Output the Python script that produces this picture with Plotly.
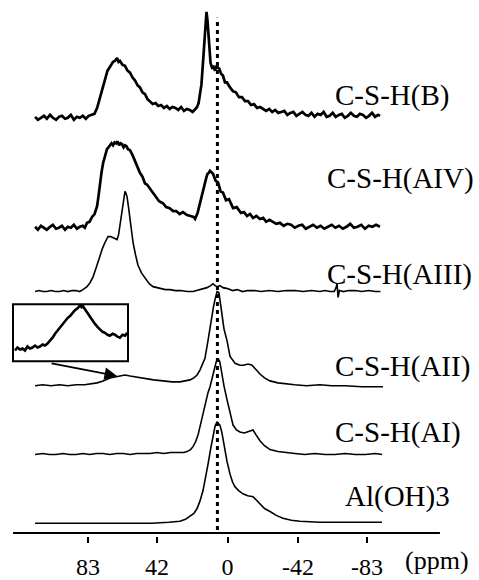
import plotly.graph_objects as go

# ---------------- data (ppm, intensity in arbitrary units) ----------------
SPEC_B = [(114.5, 1), (112.8, -2), (111.0, 0), (109.2, 2), (107.5, -1), (105.6, 3), (103.9, 0), (102.0, -2),
          (100.3, 1), (98.5, 2), (96.7, -1), (95.0, 0), (93.2, 3), (91.4, -2), (89.6, 1), (87.9, 0), (86.1, 2),
          (84.3, -1), (82.6, 2), (80.8, 3), (79.2, 4), (77.6, 10), (75.9, 21), (74.4, 30), (72.9, 41),
          (71.4, 48), (69.9, 52), (68.1, 57), (66.9, 58), (65.7, 61), (64.8, 57), (64.0, 58), (62.5, 54),
          (61.0, 53), (59.5, 48), (58.0, 46), (56.5, 41), (55.0, 38), (53.5, 33), (52.1, 31), (50.6, 26),
          (49.1, 24), (47.6, 19), (46.1, 17), (44.5, 14), (42.8, 15), (41.2, 12), (39.5, 13), (37.8, 10),
          (36.1, 12), (34.4, 9), (32.7, 11), (31.0, 10), (29.3, 8), (27.6, 11), (25.9, 7), (24.2, 9), (22.5, 8),
          (20.8, 6), (19.1, 9), (18.1, 11), (17.2, 15), (16.4, 23), (15.5, 34), (14.6, 56), (13.7, 79),
          (13.1, 101), (12.5, 108), (11.9, 99), (11.3, 81), (10.7, 61), (10.1, 56), (9.2, 51), (8.3, 52),
          (7.4, 48), (6.5, 53), (5.6, 51), (4.8, 50), (3.9, 45), (2.7, 43), (1.5, 36), (0.3, 36), (-1.5, 31),
          (-3.3, 27), (-5.0, 26), (-6.8, 21), (-8.6, 21), (-10.4, 17), (-12.2, 17), (-14.0, 13), (-15.8, 14),
          (-17.6, 10), (-19.4, 11), (-21.2, 9), (-23.0, 7), (-24.8, 9), (-26.6, 6), (-28.4, 8), (-30.2, 5),
          (-32.0, 6), (-33.8, 7), (-35.6, 3), (-37.4, 5), (-39.2, 6), (-41.0, 2), (-42.8, 4), (-44.6, 6),
          (-46.4, 3), (-48.2, 2), (-50.0, 5), (-51.8, 1), (-53.6, 4), (-55.4, 3), (-57.2, 6), (-59.0, 1),
          (-60.8, 2), (-62.6, 5), (-64.4, 1), (-66.2, 3), (-68.0, 4), (-69.8, 0), (-71.6, 2), (-73.4, 5),
          (-75.2, 2), (-77.0, 1), (-78.8, 4), (-80.6, 3), (-82.4, 0), (-84.2, 2), (-86.0, 5), (-87.8, 1),
          (-89.6, 3), (-90.8, 2)]

SPEC_AIV = [(114.5, 1), (112.8, -2), (111.0, 2), (109.2, 0), (107.5, -2), (105.6, 1), (103.9, 3), (102.0, -1),
            (100.3, 0), (98.5, 2), (96.7, -2), (95.0, 1), (93.2, 0), (91.4, 3), (89.6, -1), (87.9, 1), (86.1, 2),
            (84.9, 0), (83.6, 5), (82.1, 6), (80.6, 11), (79.1, 14), (77.6, 22), (76.7, 33), (75.9, 45),
            (74.9, 57), (74.0, 66), (72.8, 74), (71.7, 80), (70.8, 82), (69.9, 84), (69.0, 86), (68.1, 84),
            (67.2, 87), (66.3, 86), (65.4, 88), (64.5, 84), (63.6, 86), (62.7, 85), (61.8, 82), (61.0, 84),
            (60.1, 83), (59.2, 80), (58.0, 79), (56.5, 74), (55.0, 68), (53.5, 63), (52.1, 56), (50.6, 52),
            (49.1, 45), (47.9, 44), (46.1, 40), (44.3, 35), (42.5, 32), (40.7, 27), (38.4, 25), (36.5, 21),
            (34.4, 20), (32.4, 17), (30.5, 17), (28.5, 14), (26.5, 16), (24.1, 13), (22.0, 12), (20.2, 11),
            (19.3, 9), (18.5, 12), (17.8, 15), (17.1, 20), (16.4, 25), (15.6, 31), (14.9, 37), (14.1, 42),
            (13.4, 48), (12.6, 51), (11.9, 55), (11.1, 56), (10.4, 58), (9.5, 56), (8.6, 55), (7.1, 48),
            (5.6, 46), (4.1, 37), (2.7, 36), (0.9, 28), (-0.9, 29), (-3.3, 20), (-5.5, 21), (-8.0, 15),
            (-9.8, 16), (-11.6, 12), (-13.4, 14), (-15.2, 10), (-17.2, 12), (-19.3, 9), (-21.2, 10), (-23.0, 6),
            (-25.0, 8), (-27.0, 6), (-29.0, 4), (-31.2, 5), (-33.4, 2), (-35.6, 4), (-37.8, 3), (-40.0, 0),
            (-42.2, 2), (-44.4, 3), (-46.6, -1), (-48.8, 1), (-51.0, 3), (-53.2, 0), (-55.4, 2), (-57.6, -1),
            (-59.8, 1), (-62.0, 3), (-64.2, 0), (-66.4, 2), (-68.6, -1), (-70.8, 1), (-73.0, 4), (-75.2, 0),
            (-77.4, 1), (-79.6, 3), (-81.8, -1), (-84.0, 2), (-86.2, 1), (-88.4, 3), (-90.7, 1)]

SPEC_AIII = [(114.5, 0), (112.0, 1), (110.0, 0), (107.5, 0), (105.0, 1), (102.5, 0), (100.0, 0), (97.5, 1),
             (95.0, 0), (92.5, 1), (90.0, 1), (88.0, 0), (86.0, 2), (83.6, 5), (81.8, 9), (80.0, 15), (78.0, 25),
             (75.9, 37), (74.4, 44), (72.9, 50), (71.1, 56), (69.5, 56), (68.1, 55), (66.9, 54), (65.7, 53),
             (64.8, 58), (64.0, 67), (63.1, 78), (62.2, 90), (61.6, 97), (61.0, 102), (60.4, 100), (59.8, 97),
             (58.9, 86), (58.0, 74), (57.1, 62), (56.2, 50), (54.8, 38), (53.3, 27), (51.2, 19), (49.1, 14),
             (46.6, 8), (44.3, 5), (40.0, 3), (37.0, 2), (34.2, 2), (31.0, 1), (28.0, 1), (24.0, 0), (20.5, 0),
             (16.0, 2), (12.2, 4), (10.0, 6), (8.6, 8), (7.4, 6), (6.2, 5), (4.5, 6), (2.7, 4), (0.0, 3),
             (-3.0, 1), (-5.7, 2), (-9.0, 0), (-12.0, 1), (-16.0, 1), (-20.0, 0), (-25.0, 1), (-30.0, 0),
             (-35.0, 1), (-40.0, 1), (-45.0, 0), (-50.0, 1), (-55.0, 0), (-58.0, 1), (-61.0, 0), (-63.5, 0),
             (-64.6, 4), (-65.2, 8), (-65.8, -6), (-66.6, 1), (-69.0, 0), (-72.0, 1), (-76.0, 1), (-80.0, 0),
             (-84.0, 1), (-88.0, 0), (-91.0, 0)]

SPEC_AII = [(114.5, 0), (110.0, 1), (105.0, 0), (100.0, 1), (95.0, 0), (90.0, 1), (85.0, 1), (80.0, 2),
            (77.6, 3), (74.0, 5), (69.9, 8), (67.0, 9), (64.0, 10), (61.0, 11), (58.0, 10), (55.0, 9),
            (51.0, 8), (47.9, 7), (44.0, 6), (38.4, 5), (33.0, 4), (28.3, 4), (24.0, 5), (22.3, 6), (20.0, 8),
            (18.1, 11), (16.4, 16), (14.6, 23), (13.4, 28), (11.6, 46), (10.4, 60), (9.2, 73), (8.3, 81),
            (7.4, 88), (6.2, 96), (5.1, 95), (4.2, 86), (3.3, 73), (2.1, 58), (0.3, 46), (-1.5, 30), (-3.0, 26),
            (-4.5, 23), (-7.4, 21), (-9.5, 21), (-11.6, 22), (-13.0, 22), (-14.6, 21), (-16.5, 17), (-19.3, 12),
            (-22.0, 8), (-25.3, 5), (-30.0, 3), (-34.2, 2), (-40.0, 1), (-47.0, 0), (-55.0, 1), (-62.0, 0),
            (-70.0, 0), (-80.0, -1), (-92.5, -1)]

SPEC_AI = [(114.5, 0), (110.0, 1), (106.0, 0), (102.0, 0), (98.0, 1), (94.0, 0), (90.0, 0), (86.0, 1),
           (82.0, 0), (78.0, 1), (74.0, 1), (70.0, 0), (66.0, 1), (62.0, 1), (58.0, 0), (54.0, 1), (50.0, 1),
           (46.0, 1), (42.0, 2), (38.0, 1), (34.0, 2), (30.0, 2), (26.0, 2), (24.1, 3), (22.0, 5), (20.5, 8),
           (19.0, 13), (17.5, 20), (16.4, 28), (15.2, 37), (13.4, 53), (11.6, 63), (10.4, 69), (9.2, 78),
           (8.0, 86), (6.8, 94), (5.6, 98), (4.7, 95), (3.9, 88), (3.0, 78), (2.1, 70), (0.3, 56), (-1.5, 42),
           (-3.3, 30), (-5.3, 25), (-7.4, 23), (-10.0, 22), (-12.0, 23), (-15.2, 25), (-17.0, 20), (-19.3, 14),
           (-22.0, 9), (-25.3, 5), (-30.0, 3), (-34.0, 2), (-40.0, 1), (-46.0, 0), (-52.0, 1), (-58.0, 0),
           (-64.0, 0), (-70.0, 1), (-76.0, 0), (-82.0, 0), (-88.0, 1), (-92.0, 0)]

SPEC_ALOH3 = [(114.5, 0), (100.0, 0), (80.0, 0), (60.0, 0), (45.0, 0), (35.0, 1), (28.3, 2), (25.0, 4),
              (22.3, 7), (20.0, 10), (18.1, 15), (16.3, 23), (14.6, 33), (13.1, 45), (11.6, 60), (10.1, 75),
              (8.6, 90), (7.4, 99), (6.2, 103), (4.5, 100), (3.3, 92), (2.1, 80), (0.3, 63), (-1.5, 50),
              (-3.0, 42), (-4.5, 37), (-6.8, 33), (-9.2, 30), (-12.0, 28), (-15.2, 27), (-17.0, 24),
              (-19.3, 20), (-22.0, 15), (-25.3, 12), (-29.0, 8), (-33.0, 5), (-38.0, 3), (-43.1, 2),
              (-55.0, 1), (-70.0, 1), (-91.9, 1)]

INSET = [(98.8, 11), (97.3, 14), (95.7, 12), (94.2, 13), (92.7, 11), (91.2, 15), (89.7, 13), (88.1, 14),
         (86.6, 16), (85.1, 14), (83.6, 15), (82.0, 17), (80.5, 16), (79.0, 18), (77.5, 21), (75.9, 24),
         (74.4, 28), (72.9, 31), (71.4, 35), (69.9, 37), (68.3, 41), (66.8, 44), (65.3, 46), (63.8, 49),
         (62.3, 52), (60.7, 54), (59.2, 57), (58.3, 55), (57.4, 56), (56.2, 53), (55.0, 50), (54.0, 48),
         (53.1, 46), (51.6, 41), (50.1, 38), (48.6, 35), (47.0, 32), (45.5, 30), (44.0, 29), (42.5, 27),
         (41.0, 26), (39.4, 28), (37.9, 27), (36.4, 25), (34.9, 24), (33.3, 27), (31.8, 26), (30.6, 29)]

LABELS = ["C-S-H(B)", "C-S-H(AIV)", "C-S-H(AIII)", "C-S-H(AII)", "C-S-H(AI)", "Al(OH)3"]
TICK_VALS = [83, 42, 0, -42, -83]
TICK_TEXT = ["83", "42", "0", "-42", "-83"]
REF_PPM = 6

# ---------------- layout constants ----------------
W, H = 479, 580
PLOT_H = 546
OFFSETS = [426, 314, 249, 153, 83, 13]          # stacking offsets (vertical units)
WIDTHS = [2.7, 2.7, 1.6, 1.6, 1.6, 1.6]
LABEL_POS = [(333, 97), (325, 182), (325, 280), (333, 373), (333, 441), (343, 506)]  # px
SERIF = "Liberation Serif, Times New Roman, serif"

fig = go.Figure()
spectra = [SPEC_B, SPEC_AIV, SPEC_AIII, SPEC_AII, SPEC_AI, SPEC_ALOH3]
for spec, off, lw, name in zip(spectra, OFFSETS, WIDTHS, LABELS):
    xs = [p for p, _ in spec]
    ys = [v + off for _, v in spec]
    fig.add_trace(go.Scatter(x=xs, y=ys, mode="lines", name=name,
                             line=dict(color="black", width=lw), showlegend=False,
                             hoverinfo="skip"))

fig.add_trace(go.Scatter(x=[p for p, _ in INSET], y=[v for _, v in INSET], mode="lines",
                         xaxis="x2", yaxis="y2", line=dict(color="black", width=2.6),
                         showlegend=False, hoverinfo="skip"))

for text, (lx, ly) in zip(LABELS, LABEL_POS):
    fig.add_annotation(text=text, xref="paper", yref="paper", x=lx / W, y=(PLOT_H - ly) / PLOT_H,
                       xanchor="left", yanchor="middle", showarrow=False,
                       font=dict(family=SERIF, size=29, color="black"))

fig.add_annotation(text="(ppm)", xref="paper", yref="paper", x=437 / W, y=(PLOT_H - 571) / PLOT_H,
                   xanchor="center", yanchor="middle", showarrow=False,
                   font=dict(family=SERIF, size=26, color="black"))

# arrow from inset to the AII bump
fig.add_annotation(x=65.7, y=163, xref="x", yref="y", ax=-67, ay=-13, text="",
                   showarrow=True, arrowhead=2, arrowsize=1.4, arrowwidth=1.8, arrowcolor="black")

# inset frame
fig.add_shape(type="rect", xref="paper", yref="paper", x0=13 / W, x1=128 / W,
              y0=(PLOT_H - 368) / PLOT_H, y1=(PLOT_H - 310) / PLOT_H,
              line=dict(color="black", width=2))

# reference dotted line
fig.add_shape(type="line", xref="x", yref="y", x0=REF_PPM, x1=REF_PPM, y0=6, y1=528,
              line=dict(color="black", width=3, dash="4px,4px"))

# axis baseline
fig.add_shape(type="line", xref="x", yref="y", x0=127.6, x1=-126.4, y0=3, y1=3,
              line=dict(color="black", width=2))

fig.update_layout(
    width=W, height=H, margin=dict(l=0, r=0, t=0, b=H - PLOT_H),
    paper_bgcolor="white", plot_bgcolor="white",
    xaxis=dict(range=[135.36, -149.64], showgrid=False, zeroline=False, showline=False,
               tickvals=TICK_VALS, ticktext=TICK_TEXT, ticks="outside", ticklen=6, tickwidth=1.5,
               tickcolor="black", ticklabelstandoff=3,
               tickfont=dict(family=SERIF, size=24, color="black")),
    yaxis=dict(range=[0, PLOT_H], visible=False),
    xaxis2=dict(domain=[13 / W, 128 / W], range=[100, 30], visible=False, anchor="y2"),
    yaxis2=dict(domain=[(PLOT_H - 368) / PLOT_H, (PLOT_H - 310) / PLOT_H], range=[0, 58],
                visible=False, anchor="x2"),
)

fig.write_html("out.html")
